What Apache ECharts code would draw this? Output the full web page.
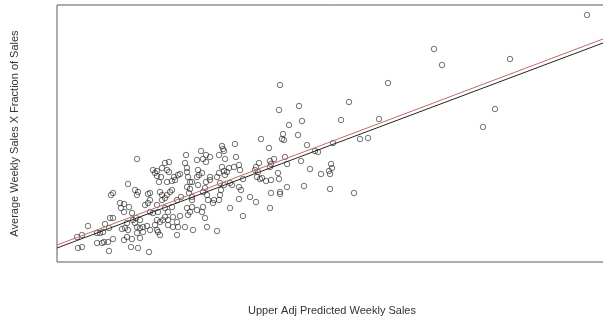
<!DOCTYPE html>
<html>
<head>
<meta charset="utf-8">
<script src="https://cdn.jsdelivr.net/npm/echarts@6/dist/echarts.min.js"></script>
<style>
  html, body { margin: 0; padding: 0; background: #fff; }
  #chart { width: 603px; height: 317px; }
</style>
</head>
<body>
<div id="chart"></div>
<script>
// Upper adj predicted weekly sales (x) vs average weekly sales x fraction (y), arbitrary units
const predicted = [
  20,25,21,25,31,40,43,46,40,45,47,51,56,52,48,52,53,56,54,56,63,67,64,67,72,71,80,78,81,80,91,
  65,68,71,76,79,83,78,70,80,83,86,90,93,80,86,75,83,74,81,92,93,91,93,75,88,70,67,
  100,96,101,105,108,103,98,96,100,104,102,108,112,110,112,110,115,118,121,115,113,108,111,115,
  106,103,100,98,100,101,103,108,111,116,111,116,121,130,133,131,120,124,130,128,129,140,141,140,
  131,133,130,133,123,120,128,136,120,117,123,130,142,93,105,110,132,135,100,105,
  144,149,146,153,162,168,149,165,166,167,178,179,182,183,172,165,167,145,153,153,149,160,163,135,
  141,173,186,148,146,150,151,156,157,146,145,148,164,163,162,135,135,140,150,160,173,182,186,167,
  175,182,170,177,162,168,
  193,199,213,222,223,242,232,245,204,226,225,227,241,212,250,276,258,261,228,217,213,214,202,199,
  198,230,244,274,253,264,272,275,273,221,213,200,203,205,209,214,222,184,223,223,230,247,273,214,201,
  530,377,385,453,331,292,284,322,438,426,303,311,297
];
const actual = [
  25,27,14,15,36,29,29,30,19,19,20,20,23,11,38,34,44,44,67,69,59,58,54,50,55,78,103,72,70,67,68,
  33,34,32,42,44,42,39,39,35,34,35,36,32,29,30,23,24,15,14,10,50,59,62,49,57,25,22,
  57,49,50,62,64,70,89,92,91,85,80,99,100,92,90,80,81,82,87,72,70,54,50,55,
  42,40,42,37,32,30,27,45,42,45,37,35,35,54,50,47,62,65,94,99,107,102,92,85,
  85,80,75,73,46,40,35,32,27,85,88,90,87,69,67,67,69,65,86,94,
  111,107,103,105,107,103,100,116,113,111,118,105,97,92,94,95,91,89,85,82,80,85,79,80,
  77,79,83,74,70,67,62,59,62,55,50,44,72,67,62,62,55,52,35,31,54,63,46,77,
  77,75,90,95,89,87,
  65,60,54,152,177,156,137,141,123,128,123,122,127,114,117,119,111,110,105,103,101,98,99,95,
  92,98,101,98,93,88,91,94,88,89,95,85,83,84,81,82,83,72,70,68,75,76,73,69,90,
  247,213,197,203,179,160,142,143,153,135,123,124,69
];

// fitted lines: [intercept, slope]
const fitBlack = [14, 0.3755];
const fitRed = [17, 0.3773];

const xMin = 0, xMax = 550;
const yMin = 0, yMax = 257;

const points = predicted.map((x, i) => [x, actual[i]]);

function lineData(fit) {
  return [xMin, xMax].map(x => [x, fit[0] + fit[1] * x]);
}

var myChart = echarts.init(document.getElementById('chart'));

var option = {
  animation: false,
  textStyle: { fontFamily: 'Liberation Sans, Arial, sans-serif' },
  grid: {
    left: 57,
    right: -4,
    top: 5,
    bottom: 55,
    containLabel: false,
    outerBoundsMode: 'none',
    show: true,
    borderColor: '#5a5a5a',
    borderWidth: 1
  },
  xAxis: {
    type: 'value',
    min: xMin,
    max: xMax,
    name: 'Upper Adj Predicted Weekly Sales',
    nameLocation: 'middle',
    nameGap: 43,
    nameTextStyle: { fontSize: 11, color: '#333' },
    axisLine: { show: false },
    axisTick: { show: false },
    axisLabel: { show: false },
    splitLine: { show: false }
  },
  yAxis: {
    type: 'value',
    min: yMin,
    max: yMax,
    name: 'Average Weekly Sales X Fraction of Sales',
    nameLocation: 'middle',
    nameGap: 37,
    nameTextStyle: { fontSize: 11, color: '#333' },
    axisLine: { show: false },
    axisTick: { show: false },
    axisLabel: { show: false },
    splitLine: { show: false }
  },
  series: [
    {
      type: 'scatter',
      data: points,
      symbol: 'circle',
      symbolSize: 5.5,
      itemStyle: {
        color: 'rgba(255,255,255,0)',
        borderColor: '#222',
        borderWidth: 0.8
      }
    },
    {
      type: 'line',
      data: lineData(fitBlack),
      symbol: 'none',
      lineStyle: { color: '#222', width: 1 }
    },
    {
      type: 'line',
      data: lineData(fitRed),
      symbol: 'none',
      lineStyle: { color: '#c46a6a', width: 1 }
    }
  ]
};

myChart.setOption(option);
</script>
</body>
</html>
